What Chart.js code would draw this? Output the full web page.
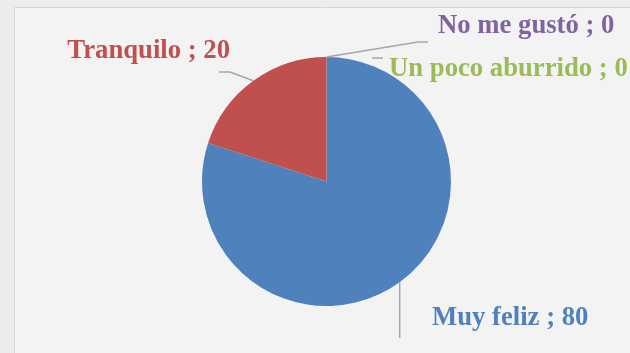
<!DOCTYPE html>
<html>
<head>
<meta charset="utf-8">
<script src="https://cdn.jsdelivr.net/npm/chart.js@4/dist/chart.umd.min.js"></script>
<style>
  html, body { margin: 0; padding: 0; background: #eeeeee; }
  #wrap { width: 630px; height: 353px; position: relative; }
</style>
</head>
<body>
<div id="wrap"><canvas id="c" width="630" height="353"></canvas></div>
<script>
// Survey answers and their counts
const categories = ['Muy feliz', 'Tranquilo', 'No me gustó', 'Un poco aburrido'];
const counts = [80, 20, 0, 0];
const sliceColors = ['#4F81BD', '#C0504D', '#8064A2', '#9BBB59'];

// Where each data label sits, relative to the pie centre (text anchor + leader path)
const labelLayout = [
  { align: 'left',  dx: 105.5, dy: 143.5, path: [[73.2, 156.5]] },
  { align: 'right', dx: -96.5, dy: -123.5, path: [[-96.5, -109.5], [-107.5, -109.5]] },
  { align: 'left',  dx: 111.5, dy: -148.5, path: [[91.5, -139.5], [101.5, -139.5]] },
  { align: 'left',  dx: 62.5,  dy: -105.5, dash: [[45.5, -123.5], [56.5, -123.5]] }
];

const backdrop = {
  id: 'backdrop',
  beforeDraw(chart) {
    const ctx = chart.ctx;
    ctx.save();
    ctx.fillStyle = '#ececec';
    ctx.fillRect(0, 0, chart.width, chart.height);
    ctx.fillStyle = '#f3f3f3';
    ctx.fillRect(14, 7, chart.width, chart.height);
    ctx.strokeStyle = '#d6d6d6';
    ctx.lineWidth = 1;
    ctx.beginPath();
    ctx.moveTo(14.5, chart.height);
    ctx.lineTo(14.5, 7.5);
    ctx.lineTo(chart.width, 7.5);
    ctx.stroke();
    ctx.restore();
  }
};

const sliceLabels = {
  id: 'sliceLabels',
  afterDatasetsDraw(chart) {
    const ctx = chart.ctx;
    const meta = chart.getDatasetMeta(0);
    const arc0 = meta.data[0];
    const cx = arc0.x, cy = arc0.y;
    ctx.save();
    ctx.font = 'bold 26.7px "Liberation Serif", "Times New Roman", serif';
    ctx.textBaseline = 'alphabetic';
    meta.data.forEach((arc, i) => {
      const lay = labelLayout[i];
      const mid = (arc.startAngle + arc.endAngle) / 2;
      const r = arc.outerRadius;
      ctx.strokeStyle = '#a6a6a6';
      ctx.lineWidth = 1.5;
      if (lay.path) {
        ctx.beginPath();
        ctx.moveTo(cx + Math.cos(mid) * r, cy + Math.sin(mid) * r);
        lay.path.forEach(p => ctx.lineTo(cx + p[0], cy + p[1]));
        ctx.stroke();
      }
      if (lay.dash) {
        ctx.beginPath();
        ctx.moveTo(cx + lay.dash[0][0], cy + lay.dash[0][1]);
        ctx.lineTo(cx + lay.dash[1][0], cy + lay.dash[1][1]);
        ctx.stroke();
      }
      ctx.fillStyle = sliceColors[i];
      ctx.textAlign = lay.align;
      ctx.fillText(categories[i] + ' ; ' + counts[i], cx + lay.dx, cy + lay.dy);
    });
    ctx.restore();
  }
};

new Chart(document.getElementById('c'), {
  type: 'pie',
  data: {
    labels: categories,
    datasets: [{
      data: counts,
      backgroundColor: sliceColors,
      borderWidth: 0
    }]
  },
  options: {
    responsive: false,
    animation: false,
    layout: { padding: { left: 202, right: 179, top: 57, bottom: 47 } },
    plugins: {
      legend: { display: false },
      tooltip: { enabled: false }
    }
  },
  plugins: [backdrop, sliceLabels]
});
</script>
</body>
</html>
